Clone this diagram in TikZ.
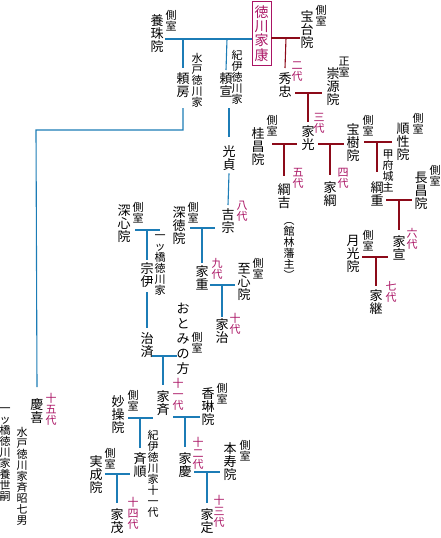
\documentclass[tikz,border=0pt]{standalone}
\usepackage{fontspec}
\newfontfamily\jp{Noto Sans CJK JP}
\newcommand\tightls{\lineskiplimit=-20pt\relax}
\definecolor{bl}{RGB}{28,124,182}
\definecolor{rd}{RGB}{140,10,25}
\definecolor{mg}{RGB}{170,20,100}
\tikzset{
 base/.style={align=center,inner sep=0pt,anchor=north},
 nm/.style={base,font=\jp\fontsize{13}{13}\selectfont\tightls},
 sm/.style={base,font=\jp\fontsize{11}{11}\selectfont\tightls},
 gen/.style={sm,text=mg},
 bline/.style={draw=bl,line width=1.1pt},
 rline/.style={draw=rd,line width=1.1pt},
}
\begin{document}
\begin{tikzpicture}[x=1pt,y=-1pt]
\path[use as bounding box] (0,0) rectangle (440,538);
% ---- Ieyasu
\node[base,draw=mg,line width=0.9pt,text=mg,inner xsep=2.5pt,inner ysep=4.5pt,
  font=\jp\fontsize{14}{14.3}\selectfont\tightls] (ieyasu) at (261.5,0.5) {徳\\川\\家\\康};
% ---- main (red) line
\node[nm] (houdai) at (307,10) {宝\\台\\院};
\node[sm] (houdaiS) at (321,5) {側\\室};
\node[nm] (hidetada) at (285,72) {秀\\忠};
\node[gen] (g2) at (297,62) {二\\代};
\node[nm] (sugen) at (333,67) {崇\\源\\院};
\node[sm] (sugenS) at (344,57) {正\\室};
\node[nm] (iemitsu) at (308,125) {家\\光};
\node[gen] (g3) at (319,113) {三\\代};
\node[nm] (keisho) at (258,127) {桂\\昌\\院};
\node[sm] (keishoS) at (272,115) {側\\室};
\node[nm] (tsunayoshi) at (284,183) {綱\\吉};
\node[sm] (tatebayashi) at (289,215) {\vphantom{館}︵\\館\\林\\藩\\主\\︶};
\node[gen] (g5) at (298,168) {五\\代};
\node[nm] (ietsuna) at (330,181) {家\\綱};
\node[gen] (g4) at (343,168) {四\\代};
\node[nm] (houju) at (353,123) {宝\\樹\\院};
\node[sm] (houjuS) at (368,115) {側\\室};
\node[nm] (junsho) at (403,123) {順\\性\\院};
\node[sm] (junshoS) at (418,113) {側\\室};
\node[sm] (koufu) at (388,150) {甲\\府\\城\\主};
\node[nm] (tsunashige) at (377,181) {綱\\重};
\node[nm] (chosho) at (421,172) {長\\昌\\院};
\node[sm] (choshoS) at (435,165) {側\\室};
\node[nm] (ienobu) at (399,235) {家\\宣};
\node[gen] (g6) at (412,228) {六\\代};
\node[nm] (gekko) at (353,235) {月\\光\\院};
\node[sm] (gekkoS) at (368,230) {側\\室};
\node[nm] (ietsugu) at (376,289) {家\\継};
\node[gen] (g7) at (391,281) {七\\代};
% ---- Yoju-in branch (blue)
\node[nm] (yoju) at (157,14) {養\\珠\\院};
\node[sm] (yojuS) at (171,10) {側\\室};
\node[nm] (yorifusa) at (183,72) {頼\\房};
\node[sm] (mito) at (197,53) {水\\戸\\徳\\川\\家};
\node[nm] (yorinobu) at (226,72) {頼\\宣};
\node[sm] (kii) at (237,50) {紀\\伊\\徳\\川\\家};
\node[nm] (mitsusada) at (229,145) {光\\貞};
\node[nm] (yoshimune) at (228,208) {吉\\宗};
\node[gen] (g8) at (242,201) {八\\代};
\node[nm] (shintoku) at (179,207) {深\\徳\\院};
\node[sm] (shintokuS) at (193,202) {側\\室};
\node[nm] (ieshige) at (202,265) {家\\重};
\node[gen] (g9) at (217,258) {九\\代};
\node[nm] (shishin) at (244,263) {至\\心\\院};
\node[sm] (shishinS) at (258,258) {側\\室};
\node[nm] (ieharu) at (222,318) {家\\治};
\node[gen] (g10) at (235,313) {十\\代};
\node[nm] (shinshin) at (124,205) {深\\心\\院};
\node[sm] (shinshinS) at (138,202) {側\\室};
\node[sm] (hitotsu) at (160,235) {一\\ッ\\橋\\徳\\川\\家};
\node[nm] (munetada) at (147,262) {宗\\伊};
\node[nm] (harusada) at (147,332) {治\\済};
\node[base,font=\jp\fontsize{13}{15}\selectfont\tightls] (otomi) at (183,303) {お\\と\\み\\の\\方};
\node[sm] (otomiS) at (197,332) {側\\室};
\node[nm] (ienari) at (163,390) {家\\斉};
\node[gen] (g11) at (178,378) {十\\一\\代};
\node[nm] (korin) at (208,387) {香\\琳\\院};
\node[sm] (korinS) at (222,383) {側\\室};
\node[nm] (ieyoshi) at (185,452) {家\\慶};
\node[gen] (g12) at (198,437) {十\\二\\代};
\node[nm] (honju) at (230,442) {本\\寿\\院};
\node[sm] (honjuS) at (245,440) {側\\室};
\node[nm] (iesada) at (207,508) {家\\定};
\node[gen] (g13) at (219,495) {十\\三\\代};
\node[nm] (myoso) at (118,395) {妙\\操\\院};
\node[sm] (myosoS) at (133,390) {側\\室};
\node[nm] (narimichi) at (140,452) {斉\\順};
\node[sm] (kii11) at (153,430) {紀\\伊\\徳\\川\\家\\十\\一\\代};
\node[nm] (jitsujo) at (96,455) {実\\成\\院};
\node[sm] (jitsujoS) at (110,448) {側\\室};
\node[nm] (iemochi) at (117,508) {家\\茂};
\node[gen] (g14) at (133,497) {十\\四\\代};
\node[nm] (yoshinobu) at (37,398) {慶\\喜};
\node[gen] (g15) at (51,393) {十\\五\\代};
\node[sm] (nariaki) at (22,427) {水\\戸\\徳\\川\\家\\斉\\昭\\七\\男};
\node[sm] (yosei) at (5,408) {一\\ッ\\橋\\徳\\川\\家\\養\\世\\嗣};
% ---- coordinates
\coordinate (r1a) at (271,38);  \coordinate (r1b) at (300,38);  \coordinate (r1) at (286,38);
\coordinate (r2a) at (295,93);  \coordinate (r2b) at (322,93);  \coordinate (r2) at (308,93);
\coordinate (r3a) at (272,144); \coordinate (r3b) at (297,144); \coordinate (r3) at (284,144);
\coordinate (r4a) at (318,144); \coordinate (r4b) at (344,144); \coordinate (r4) at (330,144);
\coordinate (r5a) at (364,142); \coordinate (r5b) at (392,142); \coordinate (r5) at (377,142);
\coordinate (r6a) at (386,200); \coordinate (r6b) at (412,200); \coordinate (r6) at (399,200);
\coordinate (r7a) at (362,257); \coordinate (r7b) at (388,257); \coordinate (r7) at (376,257);
\coordinate (b1a) at (165,39);  \coordinate (b1f) at (183,39);  \coordinate (b1k) at (227,39);
\coordinate (b2a) at (183,108); \coordinate (b2b) at (183,130); \coordinate (b2c) at (36,130);
\coordinate (b3a) at (229,108);
\coordinate (b4a) at (190,228); \coordinate (b4b) at (215,228); \coordinate (b4) at (202,228);
\coordinate (b5a) at (210,285); \coordinate (b5b) at (235,285); \coordinate (b5) at (222,285);
\coordinate (b6a) at (135,230); \coordinate (b6b) at (160,230); \coordinate (b6) at (147,230);
\coordinate (b7a) at (152,356); \coordinate (b7b) at (177,356); \coordinate (b7) at (163,356);
\coordinate (b8a) at (173,417); \coordinate (b8b) at (200,417); \coordinate (b8) at (185,417);
\coordinate (b9a) at (194,472); \coordinate (b9b) at (220,472); \coordinate (b9) at (207,472);
\coordinate (b10a) at (128,418); \coordinate (b10b) at (153,418); \coordinate (b10) at (140,418);
\coordinate (b11a) at (105,474); \coordinate (b11b) at (130,474); \coordinate (b11) at (117,474);
% ---- red connectors
\draw[rline] (r1a) -- (r1b); \draw[rline] (r1) -- ([yshift=4pt]hidetada.north);
\draw[rline] (r2a) -- (r2b); \draw[rline] (r2) -- ([yshift=3pt]iemitsu.north);
\draw[rline] (r3a) -- (r3b); \draw[rline] (r3) -- ([yshift=7pt]tsunayoshi.north);
\draw[rline] (r4a) -- (r4b); \draw[rline] (r4) -- ([yshift=6pt]ietsuna.north);
\draw[rline] (r5a) -- (r5b); \draw[rline] (r5) -- ([yshift=9pt]tsunashige.north);
\draw[rline] (r6a) -- (r6b); \draw[rline] (r6) -- ([yshift=5pt]ienobu.north);
\draw[rline] (r7a) -- (r7b); \draw[rline] (r7) -- ([yshift=3pt]ietsugu.north);
% ---- blue connectors
\draw[bline] (b1a) -- (b1a -| ieyasu.west);
\draw[bline] (b1f) -- ([yshift=4pt]yorifusa.north);
\draw[bline] (b1k) -- ([yshift=2pt]yorinobu.north);
\draw[bline] (b2a) -- (b2b) -- (b2c) -- ([yshift=11pt]yoshinobu.north);
\draw[bline] (b3a) -- ([yshift=8pt]mitsusada.north);
\draw[bline] ([yshift=-3pt]mitsusada.south) -- ([yshift=3pt]yoshimune.north);
\draw[bline] (b4a) -- (b4b); \draw[bline] (b4) -- ([yshift=2pt]ieshige.north);
\draw[bline] (b5a) -- (b5b); \draw[bline] (b5) -- ([yshift=1pt]ieharu.north);
\draw[bline] (b6a) -- (b6b); \draw[bline] (b6) -- ([yshift=2pt]munetada.north);
\draw[bline] ([yshift=-5pt]munetada.south) -- ([yshift=4pt]harusada.north);
\draw[bline] (b7a) -- (b7b); \draw[bline] (b7) -- ([yshift=5pt]ienari.north);
\draw[bline] (b8a) -- (b8b); \draw[bline] (b8) -- ([yshift=5pt]ieyoshi.north);
\draw[bline] (b9a) -- (b9b); \draw[bline] (b9) -- ([yshift=5pt]iesada.north);
\draw[bline] (b10a) -- (b10b); \draw[bline] (b10) -- ([yshift=4pt]narimichi.north);
\draw[bline] (b11a) -- (b11b); \draw[bline] (b11) -- ([yshift=5pt]iemochi.north);
\end{tikzpicture}
\end{document}
